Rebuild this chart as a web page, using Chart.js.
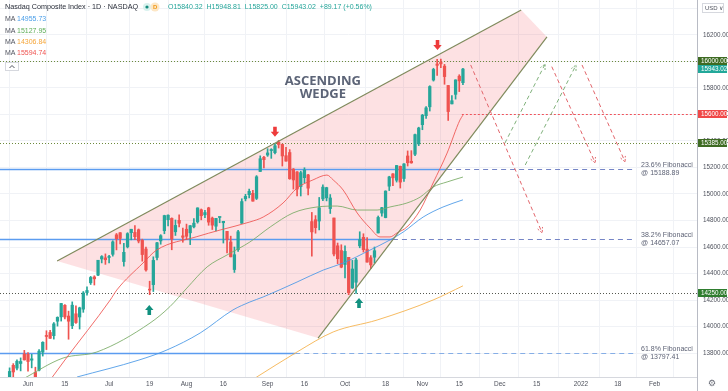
<!DOCTYPE html>
<html>
<head>
<meta charset="utf-8">
<script src="https://cdn.jsdelivr.net/npm/chart.js@4.4.1/dist/chart.umd.min.js"></script>
<style>
  html, body { margin: 0; padding: 0; background: #fff; overflow: hidden; }
  #wrap { width: 728px; height: 391px; }
</style>
</head>
<body>
<div id="wrap"><canvas id="chart" width="728" height="391"></canvas></div>
<script>
// trading-day index: 0 = 1 Jun 2021, first candle = 20 May 2021
var candleStart = -7;
var opens = [13398,13583,13525,13707,13686,13721,13792,
  13790,13746,13653,13671,13807,13926,13955,13931,14040,14073,
  14160,14079,14006,14096,14072,14131,14256,14330,14374,14388,14510,14518,
  14521,14545,14692,14708,14490,14601,14708,14710,14730,14650,14585,
  14280,14316,14521,14646,14723,14806,14816,14715,14801,14684,
  14734,14707,14752,14790,14881,14843,14895,14818,14757,14823,
  14783,14718,14638,14430,14580,14779,14964,14995,15005,14967,15170,15277,
  15294,15328,15312,15391,15374,15289,15313,15188,15167,15056,15123,15144,
  14792,14806,14796,14963,14971,14890,14819,14609,14573,
  14468,14522,14291,14334,14609,14673,14584,14519,14523,14706,14856,
  14822,15059,15152,15104,15209,15117,15287,15247,15300,15378,
  15523,15591,15658,15860,15981,15995,15965,15819,15680,15752,15889,15840];
var highs = [13548,13592,13688,13720,13749,13763,13820,
  13804,13790,13693,13826,13885,13968,13972,14030,14073,14175,
  14166,14116,14186,14157,14146,14264,14300,14378,14383,14500,14535,14548,
  14537,14647,14702,14708,14628,14708,14734,14761,14736,14659,14599,
  14342,14526,14636,14693,14840,14842,14820,14804,14842,14743,
  14773,14762,14815,14896,14887,14876,14900,14826,14817,14826,
  14794,14718,14682,14600,14725,14964,14998,15038,15028,15139,15288,15285,
  15342,15342,15380,15404,15377,15353,15335,15192,15170,15172,15198,15149,
  14861,14837,14974,15070,15051,14996,14819,14630,14617,
  14609,14522,14499,14515,14715,14700,14672,14535,14600,14834,14900,
  15024,15134,15155,15216,15211,15230,15325,15327,15453,15504,
  15601,15660,15817,15949,16017,16018,15978,15820,15743,15862,15900,15949];
var lows = [13391,13460,13514,13598,13672,13665,13747,
  13663,13688,13566,13664,13777,13826,13910,13905,14003,14041,
  14057,13904,13984,14024,13981,14107,14236,14317,14313,14383,14480,14469,
  14480,14531,14578,14624,14455,14593,14654,14655,14631,14493,14418,
  14240,14264,14502,14621,14700,14759,14579,14687,14752,14636,
  14656,14618,14744,14780,14805,14822,14764,14732,14721,14783,
  14630,14555,14525,14408,14566,14778,14948,14971,14945,14958,15170,15197,
  15284,15269,15302,15347,15211,15247,15111,15037,14986,14985,15084,14993,
  14531,14704,14729,14950,14948,14853,14532,14474,14443,
  14366,14240,14287,14250,14594,14562,14485,14437,14479,14706,14833,
  14820,15026,15062,15090,15045,15094,15211,15232,15289,15365,
  15485,15570,15626,15852,15895,15954,15828,15555,15679,15716,15773,15825];
var closes = [13535,13471,13661,13657,13738,13736,13748,
  13736,13756,13614,13814,13881,13925,13911,14020,14069,14174,
  14072,14040,14161,14030,14141,14253,14272,14370,14360,14500,14528,14504,
  14523,14639,14663,14665,14560,14701,14734,14678,14645,14543,14427,
  14275,14499,14632,14685,14837,14840,14660,14763,14779,14673,
  14681,14761,14780,14895,14836,14860,14788,14765,14816,14823,
  14794,14656,14526,14542,14715,14943,14982,15020,14946,15130,15266,15259,
  15310,15331,15364,15374,15287,15248,15115,15106,15037,15161,15181,15044,
  14714,14746,14896,15052,15048,14970,14547,14512,14448,
  14567,14255,14434,14502,14655,14580,14486,14465,14572,14823,14897,
  15022,15129,15122,15215,15090,15227,15236,15235,15448,15498,
  15595,15650,15811,15940,15971,15982,15886,15622,15704,15861,15854,15943];

// moving averages (index, value)
var maRedIdx = [6.4,10,22.3,24.1,31.2,34.9,45.8,52.1,60.2,63.8,69.2,73,77.3,81.1,82.8,85.5,89.3,92.8,95.5,98.2,100.1,102.8,106.4,109.9,113.7,117.2,118];
var maRedVal = [13611,13747,14200,14276,14479,14577,14678,14728,14789,14826,14932,15045,15106,15143,15106,15030,14857,14743,14676,14676,14706,14751,14879,15083,15309,15559,15595];
var maGreenIdx = [-1.4,9.5,18.7,33.1,38.5,43.1,48.6,54,60.2,65.7,71.9,78.4,83.9,89.3,94.7,98.2,102.8,106.4,109.9,113.7,118];
var maGreenVal = [13604,13762,13808,14026,14150,14290,14450,14540,14638,14751,14857,14902,14909,14879,14879,14902,14932,14977,15053,15091,15128];
var maBlueIdx = [13.3,30.1,37.7,46.7,55.6,60.2,63.8,73,80.1,85.5,92.8,98.2,101.8,107.2,112.6,118];
var maBlueVal = [13619,13747,13823,13951,14125,14185,14223,14336,14426,14479,14577,14653,14713,14826,14902,14956];
var maOrangeIdx = [61.6,73,82.8,94.7,109.9,118];
var maOrangeVal = [13611,13808,13959,14049,14200,14307];

var xTickIdx = [0,10,22,33,43,53,65,75,86,97,107,117,128,138,150,160,170];
var xTickLabels = ['Jun','15','Jul','19','Aug','16','Sep','16','Oct','18','Nov','15','Dec','15','2022','18','Feb'];

// drawings
var wedgeIdx = [7.9, 133.8, 140.8, 78.7];
var wedgePrice = [14494, 16389, 16185, 13913];
var keyLevels = [16000, 15385, 14250];
var targetLevel = 15600, targetFrom = 117.7;
var fibLevels = [15188.89, 14657.07, 13797.41];
var fibNames = ['23.6%', '38.2%', '61.8%'];
var fibSolidTo = [113.7, 99, 72.5];
var fibEnd = 164.7;
var projFromIdx = [120.1, 129.4, 142.1, 134.9, 150.3];
var projFromPrice = [15974, 15385, 15961, 15219, 15974];
var projToIdx = [139.5, 140.3, 153.9, 148.7, 162];
var projToPrice = [14706, 15981, 15234, 15974, 15242];
var projUp = [false, true, false, true, false];
var sellIdx = [67, 111.1], sellPrice = [15470, 16125];
var buyIdx = [32.9, 89.8], buyPrice = [14125, 14177];

var UP = '#26a69a', DOWN = '#ef5350';
var FONT = "'Liberation Sans', Arial, sans-serif";

var wicks = [], bodies = [], candleColors = [];
for (let i = 0; i < closes.length; i++) {
    wicks.push({x: candleStart + i, y: [lows[i], highs[i]]});
    bodies.push({x: candleStart + i, y: [opens[i], closes[i]]});
    candleColors.push(closes[i] >= opens[i] ? UP : DOWN);
}
function pts(a, b) { return a.map((v, k) => ({x: v, y: b[k]})); }
function maLine(label, idx, val, color) {
    return {type: 'line', label: label, data: pts(idx, val), borderColor: color, borderWidth: 1,
            pointRadius: 0, cubicInterpolationMode: 'monotone', order: 0};
}

function arrowHead(ctx, x1, y1, x2, y2) {
    var ang = Math.atan2(y2 - y1, x2 - x1), L = 6;
    ctx.beginPath();
    ctx.moveTo(x2 - L * Math.cos(ang - 0.45), y2 - L * Math.sin(ang - 0.45));
    ctx.lineTo(x2, y2);
    ctx.lineTo(x2 - L * Math.cos(ang + 0.45), y2 - L * Math.sin(ang + 0.45));
    ctx.stroke();
}
function blockArrow(ctx, x, y, down, color) {
    var d = down ? 1 : -1;
    ctx.fillStyle = color;
    ctx.beginPath();
    ctx.moveTo(x - 1.8, y - 5 * d);
    ctx.lineTo(x + 1.8, y - 5 * d);
    ctx.lineTo(x + 1.8, y);
    ctx.lineTo(x + 4.2, y);
    ctx.lineTo(x, y + 5 * d);
    ctx.lineTo(x - 4.2, y);
    ctx.lineTo(x - 1.8, y);
    ctx.closePath();
    ctx.fill();
}
function axisBox(ctx, yy, text, bg) {
    ctx.fillStyle = bg;
    ctx.fillRect(698, Math.round(yy) - 4, 29, 8);
    ctx.fillStyle = '#fff';
    ctx.font = '6.3px ' + FONT;
    ctx.textBaseline = 'middle';
    ctx.textAlign = 'left';
    ctx.fillText(text, 701, Math.round(yy) + 0.5);
}

var overlay = {
    id: 'overlay',
    beforeDatasetsDraw(chart) {
        var ctx = chart.ctx, a = chart.chartArea, x = chart.scales.x, y = chart.scales.y;
        ctx.save();
        ctx.beginPath(); ctx.rect(a.left, a.top, a.right - a.left, a.bottom - a.top); ctx.clip();
        // wedge fill
        ctx.beginPath();
        wedgeIdx.forEach((v, k) => {
            var X = x.getPixelForValue(v), Y = y.getPixelForValue(wedgePrice[k]);
            if (k == 0) ctx.moveTo(X, Y); else ctx.lineTo(X, Y);
        });
        ctx.closePath();
        ctx.fillStyle = 'rgba(242,54,69,0.15)';
        ctx.fill();
        // horizontal levels
        ctx.lineWidth = 1;
        ctx.setLineDash([1, 2]);
        keyLevels.forEach((lv, k) => {
            var Y = Math.round(y.getPixelForValue(lv)) + 0.5;
            ctx.strokeStyle = k == 2 ? '#55584f' : '#6c8a3c';
            ctx.beginPath(); ctx.moveTo(a.left, Y); ctx.lineTo(a.right, Y); ctx.stroke();
        });
        ctx.strokeStyle = '#f0525a';
        ctx.setLineDash([2, 2]);
        var Yt = Math.round(y.getPixelForValue(targetLevel)) + 0.5;
        ctx.beginPath(); ctx.moveTo(x.getPixelForValue(targetFrom), Yt); ctx.lineTo(a.right, Yt); ctx.stroke();
        // fibonacci levels
        fibLevels.forEach((lv, k) => {
            var Y = Math.round(y.getPixelForValue(lv)) + 0.5;
            var xs = x.getPixelForValue(fibSolidTo[k]);
            ctx.setLineDash([]);
            ctx.lineWidth = 1.5;
            ctx.strokeStyle = '#5b9cf0';
            ctx.beginPath(); ctx.moveTo(a.left, Y); ctx.lineTo(xs, Y); ctx.stroke();
            ctx.setLineDash([5, 4]);
            ctx.lineWidth = 1.2;
            ctx.strokeStyle = k == 2 ? '#86aee6' : '#7585c6';
            ctx.beginPath(); ctx.moveTo(xs, Y); ctx.lineTo(x.getPixelForValue(fibEnd), Y); ctx.stroke();
        });
        ctx.restore();
    },
    afterDatasetsDraw(chart) {
        var ctx = chart.ctx, a = chart.chartArea, x = chart.scales.x, y = chart.scales.y;
        ctx.save();
        ctx.beginPath(); ctx.rect(a.left, a.top, a.right - a.left, a.bottom - a.top); ctx.clip();
        // wedge borders
        ctx.strokeStyle = '#7f8a5c';
        ctx.lineWidth = 1.2;
        ctx.setLineDash([]);
        [[0, 1], [3, 2]].forEach(p => {
            ctx.beginPath();
            ctx.moveTo(x.getPixelForValue(wedgeIdx[p[0]]), y.getPixelForValue(wedgePrice[p[0]]));
            ctx.lineTo(x.getPixelForValue(wedgeIdx[p[1]]), y.getPixelForValue(wedgePrice[p[1]]));
            ctx.stroke();
        });
        // projected paths
        ctx.lineWidth = 1;
        projFromIdx.forEach((v, k) => {
            var x1 = x.getPixelForValue(v), y1 = y.getPixelForValue(projFromPrice[k]);
            var x2 = x.getPixelForValue(projToIdx[k]), y2 = y.getPixelForValue(projToPrice[k]);
            ctx.strokeStyle = projUp[k] ? '#7fb07a' : '#e2656b';
            ctx.setLineDash([4, 3]);
            ctx.beginPath(); ctx.moveTo(x1, y1); ctx.lineTo(x2, y2); ctx.stroke();
            ctx.setLineDash([2, 1.5]);
            arrowHead(ctx, x1, y1, x2, y2);
        });
        ctx.setLineDash([]);
        // swing arrows
        sellIdx.forEach((v, k) => blockArrow(ctx, x.getPixelForValue(v), y.getPixelForValue(sellPrice[k]), true, '#ee3b3b'));
        buyIdx.forEach((v, k) => blockArrow(ctx, x.getPixelForValue(v), y.getPixelForValue(buyPrice[k]), false, '#11907f'));
        // pattern name
        ctx.fillStyle = '#5c6477';
        ctx.font = "bold 13px 'Open Sans', " + FONT;
        ctx.textAlign = 'center';
        ctx.textBaseline = 'middle';
        ctx.fillText('ASCENDING', x.getPixelForValue(80), y.getPixelForValue(15849));
        ctx.fillText('WEDGE', x.getPixelForValue(80), y.getPixelForValue(15755));
        // fibonacci labels
        ctx.textAlign = 'left';
        ctx.font = '7px ' + FONT;
        ctx.fillStyle = '#5d6275';
        fibLevels.forEach((lv, k) => {
            var Y = y.getPixelForValue(lv), X = x.getPixelForValue(fibEnd) + 6;
            ctx.fillText(fibNames[k] + ' Fibonacci', X, Y - 4);
            ctx.fillText('@ ' + lv.toFixed(2), X, Y + 4);
        });
        ctx.restore();
    },
    afterDraw(chart) {
        var ctx = chart.ctx, y = chart.scales.y, a = chart.chartArea;
        ctx.save();
        // axis separators down to the bottom edge
        ctx.strokeStyle = '#b8bbc4';
        ctx.lineWidth = 1;
        ctx.beginPath(); ctx.moveTo(a.right + 0.5, 0); ctx.lineTo(a.right + 0.5, 391); ctx.stroke();
        // price tags
        axisBox(ctx, y.getPixelForValue(16000), '16000.00', '#3e6b22');
        axisBox(ctx, y.getPixelForValue(15943.02), '15943.02', '#22a89a');
        axisBox(ctx, y.getPixelForValue(15600), '15600.00', '#f04848');
        axisBox(ctx, y.getPixelForValue(15385), '15385.00', '#3e6b22');
        axisBox(ctx, y.getPixelForValue(14250), '14250.00', '#2f7d2f');
        // currency selector and settings
        ctx.strokeStyle = '#d6d8de';
        ctx.strokeRect(702.5, 3.5, 21, 9);
        ctx.fillStyle = '#50535e';
        ctx.font = '6px ' + FONT;
        ctx.textBaseline = 'middle';
        ctx.fillText('USD \u2228', 705, 8.5);
        ctx.font = '9px DejaVu Sans';
        ctx.fillStyle = '#6a6d78';
        ctx.fillText('\u2699', 708, 384);
        // header
        ctx.textBaseline = 'middle';
        ctx.font = '7.2px ' + FONT;
        ctx.fillStyle = '#2a2e39';
        ctx.fillText('Nasdaq Composite Index \u00b7 1D \u00b7 NASDAQ', 5, 7);
        ctx.fillStyle = '#d9f2ee';
        ctx.beginPath(); ctx.arc(147, 7, 4, 0, Math.PI * 2); ctx.fill();
        ctx.fillStyle = '#fde7c6';
        ctx.beginPath(); ctx.arc(155, 7, 4.5, 0, Math.PI * 2); ctx.fill();
        ctx.fillStyle = '#138a7c';
        ctx.beginPath(); ctx.arc(147, 7, 1.6, 0, Math.PI * 2); ctx.fill();
        ctx.fillStyle = '#f09a1a';
        ctx.font = 'bold 6px ' + FONT;
        ctx.fillText('D', 153, 7.3);
        ctx.font = '7px ' + FONT;
        ctx.fillStyle = UP;
        ctx.fillText('O15840.32  H15948.81  L15825.00  C15943.02  +89.17 (+0.56%)', 168, 7);
        var maVals = ['14955.73', '15127.95', '14306.84', '15594.74'];
        var maCols = ['#4a9ee8', '#5fae5a', '#f5a63a', '#ef5350'];
        maVals.forEach((v, k) => {
            var Y = 19.5 + k * 11.2;
            ctx.fillStyle = '#50535e';
            ctx.fillText('MA', 5, Y);
            ctx.fillStyle = maCols[k];
            ctx.fillText(v, 17, Y);
        });
        ctx.fillStyle = '#fff';
        ctx.strokeStyle = '#d6d8de';
        ctx.fillRect(5, 62, 13, 8);
        ctx.strokeRect(5.5, 62.5, 13, 8);
        ctx.strokeStyle = '#50535e';
        ctx.beginPath(); ctx.moveTo(9.5, 68); ctx.lineTo(12, 65.5); ctx.lineTo(14.5, 68); ctx.stroke();
        ctx.restore();
    }
};

var ctx = document.getElementById('chart').getContext('2d');
var chart = new Chart(ctx, {
    type: 'bar',
    data: {
        datasets: [
            maLine('MA 20', maRedIdx, maRedVal, 'rgba(239,83,80,0.85)'),
            maLine('MA 50', maGreenIdx, maGreenVal, 'rgba(120,170,100,0.85)'),
            maLine('MA 100', maBlueIdx, maBlueVal, 'rgba(70,150,230,0.85)'),
            maLine('MA 200', maOrangeIdx, maOrangeVal, 'rgba(245,175,70,0.85)'),
            {label: 'body', data: bodies, backgroundColor: candleColors, barThickness: 2.6, minBarLength: 1, grouped: false, order: 1},
            {label: 'wick', data: wicks, backgroundColor: candleColors, barThickness: 1, grouped: false, order: 2}
        ]
    },
    options: {
        responsive: false,
        devicePixelRatio: 1,
        animation: false,
        events: [],
        layout: { padding: 0 },
        plugins: { legend: { display: false }, tooltip: { enabled: false } },
        scales: {
            x: {
                type: 'linear',
                min: -7.6, max: 181.5,
                offset: false,
                afterBuildTicks: (s) => { s.ticks = xTickIdx.map(v => ({value: v})); },
                afterFit: (s) => { s.height = 14; s.paddingLeft = 0; s.paddingRight = 0; },
                ticks: {
                    autoSkip: false, maxRotation: 0, includeBounds: false, padding: 3,
                    color: '#4f525d', font: { size: 6.5, family: FONT },
                    callback: (v) => xTickLabels[xTickIdx.indexOf(v)]
                },
                grid: { color: '#f0f2f6', drawTicks: false },
                border: { color: '#d6d8de' }
            },
            y: {
                position: 'right',
                min: 13619, max: 16464,
                afterFit: (s) => { s.width = 31; s.paddingTop = 0; s.paddingBottom = 0; },
                ticks: {
                    stepSize: 200, includeBounds: false, padding: 6,
                    color: '#4f525d', font: { size: 6.3, family: FONT },
                    callback: (v) => v > 16300 ? '' : v.toFixed(2)
                },
                grid: { color: '#f0f2f6', drawTicks: false },
                border: { color: '#b8bbc4' }
            }
        }
    },
    plugins: [overlay]
});
</script>
</body>
</html>
